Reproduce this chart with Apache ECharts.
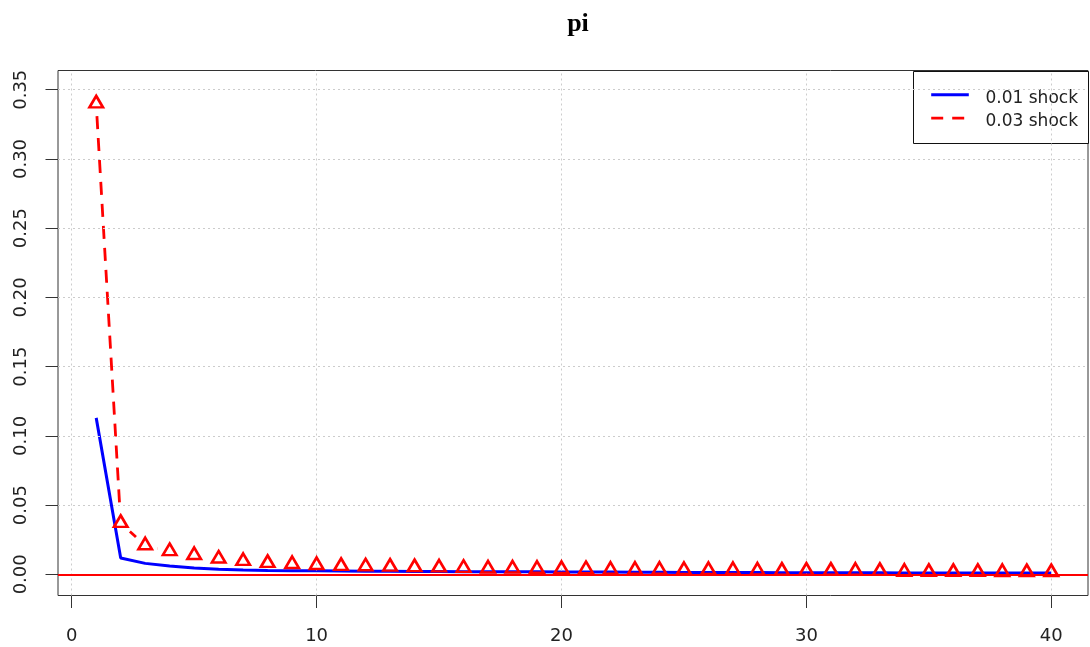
<!DOCTYPE html>
<html>
<head>
<meta charset="utf-8">
<title>pi</title>
<script src="https://cdn.jsdelivr.net/npm/echarts@6/dist/echarts.min.js"></script>
<style>
  html, body { margin: 0; padding: 0; background: #fff; }
  #chart { width: 1090px; height: 647px; }
</style>
</head>
<body>
<div id="chart"></div>
<script>
// Horizon (periods after the shock)
const periods = [1,2,3,4,5,6,7,8,9,10,11,12,13,14,15,16,17,18,19,20,
                 21,22,23,24,25,26,27,28,29,30,31,32,33,34,35,36,37,38,39,40];

// Response of pi to a 0.01 shock
const shock01 = [0.113, 0.0118, 0.0079, 0.0060, 0.0045, 0.0037, 0.0032, 0.0028, 0.0026, 0.0025,
                 0.0024, 0.0023, 0.0022, 0.0021, 0.0020, 0.0019, 0.0019, 0.0018, 0.0018, 0.0017,
                 0.0016, 0.0016, 0.0015, 0.0015, 0.0014, 0.0014, 0.0013, 0.0013, 0.0012, 0.0012,
                 0.0011, 0.0011, 0.0011, 0.0010, 0.0010, 0.0010, 0.0009, 0.0009, 0.0009, 0.0009];

// Response of pi to a 0.03 shock
const shock03 = [0.340, 0.0370, 0.0208, 0.0166, 0.0138, 0.0112, 0.0095, 0.0081, 0.0073, 0.0066,
                 0.0059, 0.0056, 0.0054, 0.0050, 0.0048, 0.0045, 0.0040, 0.0040, 0.0038, 0.0037,
                 0.0036, 0.0031, 0.0031, 0.0031, 0.0030, 0.0030, 0.0029, 0.0026, 0.0025, 0.0025,
                 0.0025, 0.0024, 0.0023, 0.0017, 0.0016, 0.0016, 0.0016, 0.0015, 0.0014, 0.0014];

// Axis ticks
const xTicks = [0, 10, 20, 30, 40];
const yTicks = [0, 0.05, 0.10, 0.15, 0.20, 0.25, 0.30, 0.35];

const seriesNames = ['0.01 shock', '0.03 shock'];

const BLUE = '#0000ff';
const RED = '#ff0000';
const AXIS_COLOR = '#333333';
const LABEL_COLOR = '#222222';
const GRID_COLOR = '#cccccc';

const chart = echarts.init(document.getElementById('chart'), null, { renderer: 'canvas' });

const pairs = (xs, ys) => xs.map((x, i) => [x, ys[i]]);

// Consecutive point pairs for the "both" style line (segments stop short of the points)
const segments03 = periods.slice(0, -1).map((t, i) => [t, shock03[i], periods[i + 1], shock03[i + 1]]);
const POINT_GAP = 12.5;

const option = {
  animation: false,
  backgroundColor: '#ffffff',
  title: {
    text: 'pi',
    left: 573,
    top: 6,
    textAlign: 'center',
    textStyle: {
      fontFamily: '"Liberation Serif", "DejaVu Serif", serif',
      fontWeight: 'bold',
      fontSize: 26,
      color: '#000'
    }
  },
  grid: {
    left: 58,
    top: 70.5,
    right: 2,
    bottom: 51.5,
    show: true,
    borderColor: AXIS_COLOR,
    borderWidth: 1,
    backgroundColor: 'transparent'
  },
  xAxis: {
    type: 'value',
    min: -0.56,
    max: 41.5,
    axisLine: { show: false, onZero: false },
    splitLine: { show: false },
    axisTick: {
      show: true,
      inside: false,
      length: 12.5,
      customValues: xTicks,
      lineStyle: { color: AXIS_COLOR, width: 1 }
    },
    axisLabel: {
      customValues: xTicks,
      margin: 32,
      fontFamily: '"DejaVu Sans", sans-serif',
      fontSize: 18,
      color: LABEL_COLOR
    }
  },
  yAxis: {
    type: 'value',
    min: -0.0153,
    max: 0.3639,
    axisLine: { show: false, onZero: false },
    splitLine: { show: false },
    axisTick: {
      show: true,
      inside: false,
      length: 12.5,
      customValues: yTicks,
      lineStyle: { color: AXIS_COLOR, width: 1 }
    },
    axisLabel: {
      customValues: yTicks,
      rotate: 90,
      margin: 28,
      fontFamily: '"DejaVu Sans", sans-serif',
      fontSize: 18,
      color: LABEL_COLOR,
      formatter: v => v.toFixed(2)
    }
  },
  series: [
    {
      // dotted reference grid at the tick positions
      type: 'line',
      data: [],
      silent: true,
      z: 1,
      markLine: {
        silent: true,
        symbol: 'none',
        label: { show: false },
        lineStyle: { color: GRID_COLOR, type: [2, 3], width: 1, opacity: 1 },
        data: xTicks.map(v => ({ xAxis: v })).concat(yTicks.map(v => ({ yAxis: v })))
      }
    },
    {
      name: seriesNames[0],
      type: 'line',
      data: pairs(periods, shock01),
      symbol: 'none',
      lineStyle: { color: BLUE, width: 3 },
      itemStyle: { color: BLUE },
      z: 3
    },
    {
      name: seriesNames[1],
      type: 'custom',
      data: segments03,
      encode: { x: [0, 2], y: [1, 3] },
      z: 4,
      renderItem: function (params, api) {
        const p0 = api.coord([api.value(0), api.value(1)]);
        const p1 = api.coord([api.value(2), api.value(3)]);
        const dx = p1[0] - p0[0];
        const dy = p1[1] - p0[1];
        const len = Math.sqrt(dx * dx + dy * dy);
        if (len <= 2 * POINT_GAP) return null;
        const ux = dx / len, uy = dy / len;
        return {
          type: 'line',
          shape: {
            x1: p0[0] + ux * POINT_GAP, y1: p0[1] + uy * POINT_GAP,
            x2: p1[0] - ux * POINT_GAP, y2: p1[1] - uy * POINT_GAP
          },
          style: { stroke: RED, lineWidth: 2.8, lineDash: [13, 9], fill: null }
        };
      }
    },
    {
      name: seriesNames[1],
      type: 'scatter',
      data: pairs(periods, shock03),
      symbol: 'triangle',
      symbolSize: [13.5, 11.5],
      symbolOffset: [0, -2],
      itemStyle: { color: 'rgba(255,255,255,0)', borderColor: RED, borderWidth: 2.6, opacity: 1 },
      z: 5
    },
    {
      // horizontal reference line at zero
      type: 'line',
      data: [],
      silent: true,
      z: 6,
      markLine: {
        silent: true,
        symbol: 'none',
        label: { show: false },
        lineStyle: { color: RED, type: 'solid', width: 1.8, opacity: 1 },
        data: [{ yAxis: 0 }]
      }
    }
  ],
  graphic: [
    {
      type: 'group',
      left: 913,
      top: 71,
      z: 100,
      children: [
        {
          type: 'rect',
          shape: { x: 0, y: 0, width: 175, height: 72 },
          style: { fill: '#ffffff', stroke: '#111111', lineWidth: 1 }
        },
        {
          type: 'line',
          shape: { x1: 17.7, y1: 23.3, x2: 55.3, y2: 23.3 },
          style: { stroke: BLUE, lineWidth: 3 }
        },
        {
          type: 'line',
          shape: { x1: 17.7, y1: 46.7, x2: 55.3, y2: 46.7 },
          style: { stroke: RED, lineWidth: 2.8, lineDash: [12, 9] }
        },
        {
          type: 'text',
          x: 72,
          y: 27,
          style: {
            text: seriesNames[0],
            fontFamily: '"DejaVu Sans", sans-serif',
            fontSize: 17,
            fill: LABEL_COLOR,
            verticalAlign: 'middle',
            align: 'left'
          }
        },
        {
          type: 'text',
          x: 72,
          y: 50.5,
          style: {
            text: seriesNames[1],
            fontFamily: '"DejaVu Sans", sans-serif',
            fontSize: 17,
            fill: LABEL_COLOR,
            verticalAlign: 'middle',
            align: 'left'
          }
        }
      ]
    }
  ]
};

chart.setOption(option);
</script>
</body>
</html>
